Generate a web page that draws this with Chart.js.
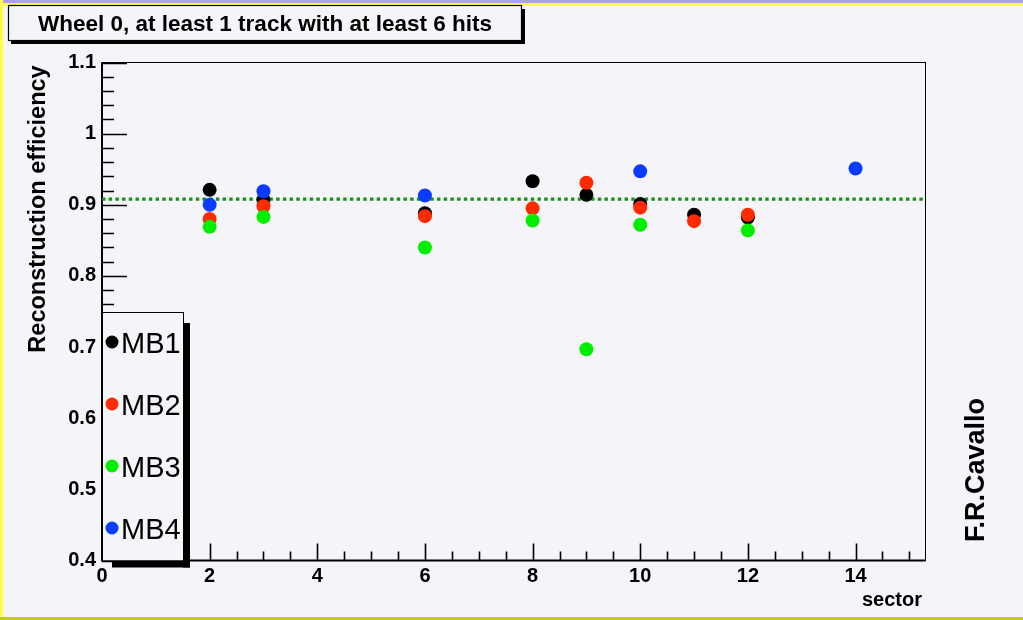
<!DOCTYPE html>
<html>
<head>
<meta charset="utf-8">
<script src="https://cdn.jsdelivr.net/npm/chart.js@4.4.1/dist/chart.umd.min.js"></script>
<style>
  html, body { margin: 0; padding: 0; background: #f5f4f8; }
  canvas { display: block; }
</style>
</head>
<body>
<canvas id="c" width="1023" height="620"></canvas>
<script>
// Per-sector reconstruction efficiency of the four muon stations, wheel 0
const sectors = [2, 3, 6, 8, 9, 10, 11, 12, 14];
const mb1 = [0.921, 0.907, 0.888, 0.933, 0.914, 0.901, 0.886, 0.882, null];
const mb2 = [0.880, 0.898, 0.884, 0.895, 0.931, 0.896, 0.877, 0.886, null];
const mb3 = [0.869, 0.883, 0.840, 0.878, 0.697, 0.872, null, 0.864, null];
const mb4 = [0.900, 0.919, 0.913, null, null, 0.947, null, null, 0.951];
const meanEfficiency = 0.908;

const seriesNames = ['MB1', 'MB2', 'MB3', 'MB4'];
const seriesValues = [mb1, mb2, mb3, mb4];
const seriesColors = ['#000000', '#ff2a00', '#00ee00', '#0a3cff'];

const xTickValues = [0, 2, 4, 6, 8, 10, 12, 14];
const xTickLabels = ['0', '2', '4', '6', '8', '10', '12', '14'];
const yTickValues = [0.4, 0.5, 0.6, 0.7, 0.8, 0.9, 1.0, 1.1];
const yTickLabels = ['0.4', '0.5', '0.6', '0.7', '0.8', '0.9', '1', '1.1'];
const xRange = [0, 15.3];
const yRange = [0.4, 1.1];

const titleText = 'Wheel 0, at least 1 track with at least 6 hits';
const yTitleText = 'Reconstruction efficiency';
const xTitleText = 'sector';
const authorText = 'F.R.Cavallo';

const FONT = '"Liberation Sans", Arial, Helvetica, sans-serif';
const BG = '#f5f4f8';

function lookupLabel(values, labels, v) {
  const i = values.findIndex(t => Math.abs(t - v) < 1e-9);
  return i >= 0 ? labels[i] : '';
}

const seriesDatasets = seriesNames.map((name, k) => ({
  label: name,
  data: sectors.map((s, i) => ({ x: s, y: seriesValues[k][i] })).filter(p => p.y !== null),
  backgroundColor: seriesColors[k],
  borderColor: seriesColors[k],
  pointRadius: 7,
  pointHoverRadius: 7,
  pointBorderWidth: 0,
  showLine: false,
  order: 4 - k
}));

const meanLine = {
  type: 'line',
  label: 'mean',
  data: [{ x: xRange[0], y: meanEfficiency }, { x: xRange[1], y: meanEfficiency }],
  borderColor: '#119311',
  borderWidth: 3.2,
  borderDash: [3.4, 3.3],
  pointRadius: 0,
  fill: false,
  order: 10
};

const frame = {
  id: 'frame',
  beforeDraw(chart) {
    const ctx = chart.ctx;
    ctx.save();
    ctx.fillStyle = BG;
    ctx.fillRect(0, 0, 1023, 620);
    ctx.fillStyle = '#a9a3e6';
    ctx.fillRect(0, 0, 1023, 3);
    ctx.fillStyle = '#ffff3c';
    ctx.fillRect(0, 3, 1023, 3);
    ctx.fillRect(0, 0, 3, 620);
    ctx.fillStyle = '#c6c62a';
    ctx.fillRect(0, 617, 1023, 3);
    ctx.restore();
  },
  beforeDatasetsDraw(chart) {
    const { ctx, chartArea: a, scales: { x, y } } = chart;
    ctx.save();
    ctx.strokeStyle = '#000';
    ctx.lineWidth = 1;
    ctx.strokeRect(a.left, a.top, a.right - a.left, a.bottom - a.top);
    ctx.lineWidth = 2;
    ctx.beginPath();
    ctx.moveTo(a.left, a.top);
    ctx.lineTo(a.left, a.bottom);
    ctx.lineTo(a.right, a.bottom);
    ctx.stroke();

    ctx.lineWidth = 1.6;
    ctx.beginPath();
    // y ticks: 0.02 minor, 0.1 major
    for (let n = 0; n <= 35; n++) {
      const v = yRange[0] + n * 0.02;
      const py = Math.round(y.getPixelForValue(v)) + 0.5;
      const len = n % 5 === 0 ? 25 : 12;
      ctx.moveTo(a.left, py);
      ctx.lineTo(a.left + len, py);
    }
    // x ticks: 0.5 minor, 2 major
    for (let n = 0; n * 0.5 <= xRange[1]; n++) {
      const v = n * 0.5;
      const px = Math.round(x.getPixelForValue(v)) + 0.5;
      const len = n % 4 === 0 ? 17 : 9;
      ctx.moveTo(px, a.bottom);
      ctx.lineTo(px, a.bottom - len);
    }
    ctx.stroke();
    ctx.restore();
  },
  afterDraw(chart) {
    const { ctx, chartArea: a } = chart;
    ctx.save();

    // legend box with drop shadow
    const lx = a.left, ly = 312, lw = 81, lh = a.bottom - 312;
    ctx.fillStyle = '#000';
    ctx.fillRect(lx + lw, ly + 11, 7, lh - 4);
    ctx.fillRect(lx + 10, ly + lh, lw - 3, 7);
    ctx.fillStyle = BG;
    ctx.fillRect(lx, ly, lw, lh);
    ctx.strokeStyle = '#000';
    ctx.lineWidth = 1;
    ctx.strokeRect(lx + 0.5, ly + 0.5, lw, lh);
    ctx.font = '29px ' + FONT;
    ctx.textAlign = 'left';
    ctx.textBaseline = 'alphabetic';
    chart.data.datasets.filter(d => seriesNames.includes(d.label)).forEach((d, i) => {
      const cy = 342 + i * 62;
      ctx.fillStyle = d.backgroundColor;
      ctx.beginPath();
      ctx.arc(lx + 10, cy, 6.5, 0, Math.PI * 2);
      ctx.fill();
      ctx.fillStyle = '#000';
      ctx.fillText(d.label, lx + 19, cy + 10.5);
    });

    // title box with drop shadow
    ctx.fillStyle = '#000';
    ctx.fillRect(11, 9, 514, 35);
    ctx.fillStyle = BG;
    ctx.fillRect(8, 5, 514, 36);
    ctx.strokeStyle = '#000';
    ctx.lineWidth = 1.2;
    ctx.strokeRect(8.5, 5.5, 513, 35);
    ctx.fillStyle = '#000';
    ctx.font = 'bold 22.5px ' + FONT;
    ctx.textAlign = 'center';
    ctx.textBaseline = 'alphabetic';
    ctx.fillText(titleText, 265, 31);

    // axis titles
    ctx.font = 'bold 20px ' + FONT;
    ctx.textAlign = 'right';
    ctx.fillText(xTitleText, 922, 606);

    ctx.save();
    ctx.translate(45, 209);
    ctx.rotate(-Math.PI / 2);
    ctx.font = 'bold 23.5px ' + FONT;
    ctx.textAlign = 'center';
    ctx.fillText(yTitleText, 0, 0);
    ctx.restore();

    ctx.save();
    ctx.translate(984, 470);
    ctx.rotate(-Math.PI / 2);
    ctx.font = 'bold 27px ' + FONT;
    ctx.textAlign = 'center';
    ctx.fillText(authorText, 0, 0);
    ctx.restore();

    ctx.restore();
  }
};

new Chart(document.getElementById('c'), {
  type: 'scatter',
  data: { datasets: [...seriesDatasets, meanLine] },
  options: {
    responsive: false,
    animation: false,
    devicePixelRatio: 1,
    layout: { padding: { left: 0, top: 62.5, right: 97.5, bottom: 0 } },
    plugins: { legend: { display: false }, tooltip: { enabled: false }, title: { display: false } },
    scales: {
      x: {
        type: 'linear',
        min: xRange[0],
        max: xRange[1],
        afterBuildTicks: s => { s.ticks = xTickValues.map(v => ({ value: v })); },
        afterFit: s => { s.height = 59.5; },
        grid: { display: false, drawTicks: false },
        border: { display: false },
        ticks: {
          autoSkip: false,
          maxRotation: 0,
          padding: 4,
          color: '#000',
          font: { family: FONT, size: 20, weight: 'bold' },
          callback: v => lookupLabel(xTickValues, xTickLabels, v)
        }
      },
      y: {
        type: 'linear',
        min: yRange[0],
        max: yRange[1],
        afterBuildTicks: s => { s.ticks = yTickValues.map(v => ({ value: v })); },
        afterFit: s => { s.width = 102; },
        grid: { display: false, drawTicks: false },
        border: { display: false },
        ticks: {
          autoSkip: false,
          padding: 6,
          color: '#000',
          font: { family: FONT, size: 20, weight: 'bold' },
          callback: v => lookupLabel(yTickValues, yTickLabels, v)
        }
      }
    }
  },
  plugins: [frame]
});
</script>
</body>
</html>
